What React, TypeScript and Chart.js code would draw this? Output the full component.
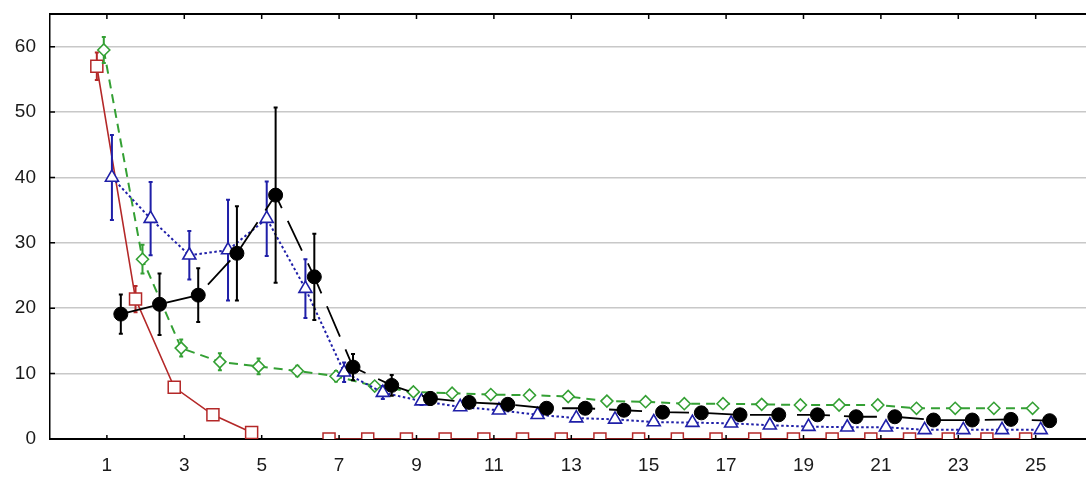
import React, { useEffect, useRef } from "react";
import { Chart, registerables } from "chart.js";

Chart.register(...registerables);

// ---------- data ----------
const categories = [1, 2, 3, 4, 5, 6, 7, 8, 9, 10, 11, 12, 13, 14, 15, 16, 17, 18, 19, 20, 21, 22, 23, 24, 25];

const redValues: (number | null)[] = [57, 21.4, 7.9, 3.7, 1.0, null, 0, 0, 0, 0, 0, 0, 0, 0, 0, 0, 0, 0, 0, 0, 0, 0, 0, 0, 0];
const redErrors = [2.1, 2, 0.4, 0, 0, 0, 0, 0, 0, 0, 0, 0, 0, 0, 0, 0, 0, 0, 0, 0, 0, 0, 0, 0, 0];

const greenValues = [59.5, 27.5, 13.9, 11.8, 11.1, 10.4, 9.6, 8.1, 7.2, 7.0, 6.8, 6.7, 6.5, 5.8, 5.7, 5.4, 5.4, 5.3, 5.2, 5.2, 5.2, 4.7, 4.7, 4.7, 4.7];
const greenErrors = [2, 2.2, 1.3, 1.3, 1.2, 0.8, 0.8, 0.6, 0.5, 0, 0, 0, 0, 0, 0, 0, 0, 0, 0, 0, 0, 0, 0, 0, 0];

const blueValues = [40, 33.7, 28.1, 28.9, 33.7, 23.0, 10.2, 7.1, 5.8, 4.9, 4.4, 3.7, 3.2, 3.0, 2.6, 2.5, 2.4, 2.1, 1.9, 1.8, 1.8, 1.4, 1.4, 1.4, 1.4];
const blueErrors = [6.5, 5.6, 3.7, 7.7, 5.7, 4.5, 1.5, 1, 0.6, 0, 0, 0, 0, 0, 0, 0, 0, 0, 0, 0, 0, 0, 0, 0, 0];

const blackValues = [19.1, 20.6, 22, 28.4, 37.3, 24.8, 11.0, 8.2, 6.2, 5.6, 5.3, 4.7, 4.7, 4.4, 4.1, 4.0, 3.7, 3.7, 3.7, 3.4, 3.4, 2.9, 2.9, 3.0, 2.8];
const blackErrors = [3, 4.7, 4.1, 7.2, 13.4, 6.6, 2, 1.6, 1, 0, 0, 0, 0, 0, 0, 0, 0, 0, 0, 0, 0, 0, 0, 0, 0];

const xTickLabels = [1, 3, 5, 7, 9, 11, 13, 15, 17, 19, 21, 23, 25];
const yTickLabels = [0, 10, 20, 30, 40, 50, 60];

// ---------- layout / style ----------
const OFFSET_RED = -0.26;
const OFFSET_GREEN = -0.08;
const OFFSET_BLUE = 0.13;
const OFFSET_BLACK = 0.36;

const X_MIN = -0.47;
const X_MAX = 26.3;
const Y_MIN = 0;
const Y_MAX = 65;

const FONT = "'Liberation Sans', Arial, sans-serif";

function pts(vals: (number | null)[], off: number) {
  return categories.map((c, i) => ({ x: c + off, y: vals[i] }));
}

const errorBarPlugin = {
  id: "errorBars",
  beforeDatasetDraw(chart: any, args: any) {
    const ds = chart.data.datasets[args.index];
    const errs: number[] | undefined = ds.errors;
    if (!errs) return;
    const ys = chart.scales.y;
    const area = chart.chartArea;
    const ctx = chart.ctx;
    ctx.save();
    ctx.beginPath();
    ctx.rect(area.left, area.top, area.right - area.left, area.bottom - area.top);
    ctx.clip();
    ctx.strokeStyle = ds.borderColor;
    ctx.lineWidth = 2;
    ctx.setLineDash([]);
    args.meta.data.forEach((el: any, i: number) => {
      const v = ds.data[i].y;
      const e = errs[i];
      if (v == null || !e) return;
      const x = el.x;
      const y1 = ys.getPixelForValue(v + e);
      const y2 = ys.getPixelForValue(v - e);
      ctx.beginPath();
      ctx.moveTo(x, y1);
      ctx.lineTo(x, y2);
      ctx.moveTo(x - 2, y1);
      ctx.lineTo(x + 2, y1);
      ctx.moveTo(x - 2, y2);
      ctx.lineTo(x + 2, y2);
      ctx.stroke();
    });
    ctx.restore();
  },
};

const innerTicksPlugin = {
  id: "innerTicks",
  afterDraw(chart: any) {
    const { ctx, chartArea } = chart;
    const xs = chart.scales.x;
    const ys = chart.scales.y;
    ctx.save();
    ctx.strokeStyle = "#000";
    ctx.lineWidth = 1.5;
    ctx.beginPath();
    xTickLabels.forEach((v) => {
      const px = xs.getPixelForValue(v);
      ctx.moveTo(px, chartArea.bottom);
      ctx.lineTo(px, chartArea.bottom - 4);
      ctx.moveTo(px, chartArea.top);
      ctx.lineTo(px, chartArea.top + 5);
    });
    yTickLabels.forEach((v) => {
      const py = ys.getPixelForValue(v);
      ctx.moveTo(chartArea.left, py);
      ctx.lineTo(chartArea.left + 5, py);
    });
    ctx.stroke();
    ctx.restore();
  },
};

export default function App() {
  const ref = useRef<HTMLCanvasElement | null>(null);

  useEffect(() => {
    if (!ref.current) return;
    const chart = new Chart(ref.current, {
      type: "line",
      data: {
        datasets: [
          {
            label: "black",
            data: pts(blackValues, OFFSET_BLACK),
            errors: blackErrors,
            borderColor: "#000000",
            borderWidth: 1.8,
            borderDash: [33, 14],
            pointStyle: "circle",
            pointRadius: 7,
            pointBackgroundColor: "#000000",
            pointBorderColor: "#000000",
            pointBorderWidth: 1,
            clip: 0,
          } as any,
          {
            label: "blue",
            data: pts(blueValues, OFFSET_BLUE),
            errors: blueErrors,
            borderColor: "#1f1fa8",
            borderWidth: 2,
            borderDash: [2.5, 2.5],
            pointStyle: "triangle",
            pointRadius: 7.5,
            pointBackgroundColor: "#ffffff",
            pointBorderColor: "#1f1fa8",
            pointBorderWidth: 1.6,
            clip: 0,
          } as any,
          {
            label: "green",
            data: pts(greenValues, OFFSET_GREEN),
            errors: greenErrors,
            borderColor: "#34a034",
            borderWidth: 2,
            borderDash: [9, 6],
            pointStyle: "rectRot",
            pointRadius: 6,
            pointBackgroundColor: "#ffffff",
            pointBorderColor: "#34a034",
            pointBorderWidth: 1.6,
            clip: 0,
          } as any,
          {
            label: "red",
            data: pts(redValues, OFFSET_RED),
            errors: redErrors,
            borderColor: "#b42828",
            borderWidth: 1.6,
            pointStyle: "rect",
            pointRadius: 8.5,
            pointBackgroundColor: "#ffffff",
            pointBorderColor: "#b42828",
            pointBorderWidth: 1.5,
            spanGaps: false,
            clip: 0,
          } as any,
        ],
      },
      options: {
        animation: false,
        responsive: false,
        devicePixelRatio: 1,
        layout: { padding: 0, autoPadding: false },
        elements: { line: { tension: 0, fill: false } },
        plugins: {
          legend: { display: false },
          tooltip: { enabled: false },
        },
        scales: {
          x: {
            type: "linear",
            position: "bottom",
            min: X_MIN,
            max: X_MAX,
            afterBuildTicks: (s: any) => {
              s.ticks = xTickLabels.map((v) => ({ value: v }));
            },
            afterFit: (s: any) => {
              s.height = 38;
              s.paddingLeft = 0;
              s.paddingRight = 0;
            },
            ticks: {
              autoSkip: false,
              maxRotation: 0,
              padding: 15,
              color: "#1a1a1a",
              font: { family: FONT, size: 19 },
              callback: (v: any) => String(v),
            },
            grid: { display: false, drawTicks: false },
            border: { display: true, color: "#000", width: 2 },
          },
          xTop: {
            type: "linear",
            position: "top",
            min: X_MIN,
            max: X_MAX,
            afterFit: (s: any) => {
              s.height = 14;
              s.paddingLeft = 0;
              s.paddingRight = 0;
            },
            ticks: { display: false },
            grid: { display: false, drawTicks: false },
            border: { display: true, color: "#000", width: 2 },
          },
          y: {
            type: "linear",
            min: Y_MIN,
            max: Y_MAX,
            afterBuildTicks: (s: any) => {
              s.ticks = yTickLabels.map((v) => ({ value: v }));
            },
            afterFit: (s: any) => {
              s.width = 50;
              s.paddingTop = 0;
              s.paddingBottom = 0;
            },
            ticks: {
              padding: 14,
              color: "#1a1a1a",
              font: { family: FONT, size: 19 },
              callback: (v: any) => String(v),
            },
            grid: {
              drawTicks: false,
              lineWidth: 1.5,
              color: (c: any) => (c.tick && c.tick.value === 0 ? "rgba(0,0,0,0)" : "#c8c8c8"),
            },
            border: { display: true, color: "#000", width: 1.5 },
          },
        },
      } as any,
      plugins: [errorBarPlugin, innerTicksPlugin],
    });
    return () => chart.destroy();
  }, []);

  return (
    <div style={{ position: "absolute", left: 0, top: 0, width: 1086, height: 477, background: "#fff" }}>
      <canvas ref={ref} width={1086} height={477} style={{ display: "block" }} />
    </div>
  );
}
